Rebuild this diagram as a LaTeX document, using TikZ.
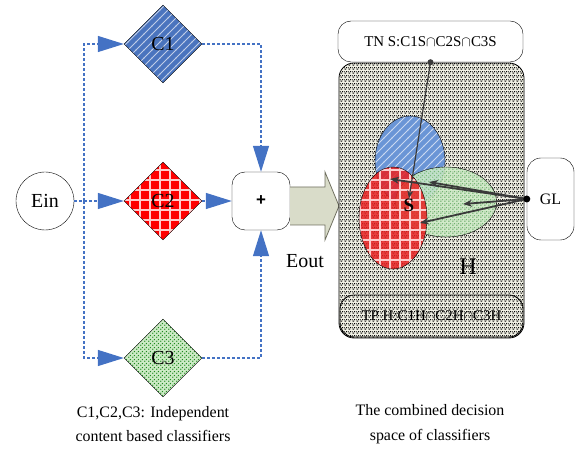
\documentclass[tikz,border=0pt]{standalone}
\usepackage{fontspec}
\setmainfont{Liberation Serif}
\setsansfont{Liberation Sans}
\usetikzlibrary{shapes.geometric, arrows.meta, patterns}
\pgfdeclarepatternformonly{hchk}{\pgfpointorigin}{\pgfqpoint{4bp}{4bp}}{\pgfqpoint{4bp}{4bp}}{%
  \pgfpathrectangle{\pgfqpoint{0.75bp}{0.4bp}}{\pgfqpoint{2bp}{1.2bp}}%
  \pgfpathrectangle{\pgfqpoint{2.75bp}{2.4bp}}{\pgfqpoint{1.25bp}{1.2bp}}%
  \pgfpathrectangle{\pgfqpoint{0bp}{2.4bp}}{\pgfqpoint{0.75bp}{1.2bp}}%
  \pgfusepath{fill}}
\pgfdeclarepatternformonly{nestripes}{\pgfqpoint{-1bp}{-1bp}}{\pgfqpoint{9bp}{9bp}}{\pgfqpoint{8bp}{8bp}}{%
  \pgfsetlinewidth{0.9bp}\pgfpathmoveto{\pgfqpoint{-0.5bp}{-0.5bp}}\pgfpathlineto{\pgfqpoint{8.5bp}{8.5bp}}\pgfusepath{stroke}}
\pgfdeclarepatternformonly{wgrid}{\pgfqpoint{-1bp}{-1bp}}{\pgfqpoint{10bp}{10bp}}{\pgfqpoint{10bp}{10bp}}{%
  \pgfsetlinewidth{1.1bp}%
  \pgfpathmoveto{\pgfqpoint{0bp}{-0.5bp}}\pgfpathlineto{\pgfqpoint{0bp}{10.5bp}}%
  \pgfpathmoveto{\pgfqpoint{-0.5bp}{0bp}}\pgfpathlineto{\pgfqpoint{10.5bp}{0bp}}%
  \pgfusepath{stroke}}
\pgfdeclarepatternformonly{gdots}{\pgfpointorigin}{\pgfqpoint{4bp}{4bp}}{\pgfqpoint{4bp}{4bp}}{%
  \pgfpathcircle{\pgfqpoint{1bp}{1bp}}{0.9bp}%
  \pgfpathcircle{\pgfqpoint{3bp}{3bp}}{0.9bp}%
  \pgfusepath{fill}}
\definecolor{flowblue}{HTML}{4472C4}
\definecolor{cblue}{HTML}{4A74BE}
\definecolor{eblue}{HTML}{6A95D6}
\definecolor{cred}{HTML}{FF0000}
\definecolor{ered}{HTML}{E82020}
\definecolor{cgreen}{HTML}{CDEBC6}
\definecolor{dgreen}{HTML}{1F8A1F}
\definecolor{arrfill}{HTML}{D9DCC9}
\definecolor{arrdraw}{HTML}{707060}
\definecolor{hbg}{HTML}{F0F0E4}
\definecolor{darkg}{HTML}{3A3A3A}
\tikzset{
  cls/.style={diamond, draw, aspect=1, minimum width=78bp, minimum height=78bp, inner sep=0pt, font=\fontsize{20}{24}\selectfont},
  bluefill/.style={preaction={fill=cblue}, pattern=nestripes, pattern color=white!65!cblue},
  redfill/.style={preaction={fill=cred}, pattern=wgrid, pattern color=white!80!red},
  greenfill/.style={preaction={fill=cgreen}, pattern=gdots, pattern color=dgreen},
  flow/.style={draw=flowblue, line width=1.3bp, dash pattern=on 3bp off 2bp, -{Triangle[length=26bp,width=16bp]}},
  hfill/.style={preaction={fill=hbg}, pattern=hchk, pattern color=black},
  glarrow/.style={draw=darkg, line width=1.8bp, -{Stealth[length=9bp,width=7bp]}},
  roundbox/.style={draw, fill=white, rounded corners=13bp, inner sep=0pt},
  lbl/.style={inner sep=0pt, font=\fontsize{20}{24}\selectfont}
}
\begin{document}
\begin{tikzpicture}[x=1bp, y=-1bp]
\useasboundingbox (0,0) rectangle (575,450);
% left part
\node[circle, draw, minimum size=58bp, inner sep=0pt, font=\fontsize{20}{24}\selectfont] (ein) at (45,201) {Ein};
\node[cls, bluefill] (c1) at (163,44) {C1};
\node[cls, redfill] (c2) at (163,201) {C2};
\node[cls, greenfill] (c3) at (163,358) {C3};
\node[roundbox, minimum size=58bp, font=\sffamily\bfseries\fontsize{17}{20}\selectfont] (plus) at (261,201) {+};
\coordinate (jL) at (84,201);
\draw[flow] (ein.east) -- (c2.west);
\draw[flow] (jL) |- (c1.west);
\draw[flow] (jL) |- (c3.west);
\draw[flow] (c1.east) -| (plus.north);
\draw[flow] (c2.east) -- (plus.west);
\draw[flow] (c3.east) -| (plus.south);
% big arrow
\draw[fill=arrfill, draw=arrdraw, line width=0.8bp] (290,187) -- (325,187) -- (325,172) -- (339,206) -- (325,240) -- (325,225) -- (290,225);
\node[lbl] (eout) at (305,261) {Eout};
% decision space
\node[draw, line width=0.8bp, rounded corners=15bp, minimum width=185bp, minimum height=275bp, hfill] (space) at (431.5,200.5) {};
\node[draw, line width=0.8bp, rounded corners=14bp, minimum width=183bp, minimum height=42bp, hfill, font=\fontsize{15}{18}\selectfont] (tp) at (431.5,316) {TP H:C1H$\cap$C2H$\cap$C3H};
\node[ellipse, draw, minimum width=70bp, minimum height=90bp, preaction={fill=eblue}, pattern=nestripes, pattern color=white!65!eblue] (eb) at (410,161) {};
\node[ellipse, draw, minimum width=101bp, minimum height=70bp, preaction={fill=cgreen, fill opacity=0.85}, pattern=gdots, pattern color=dgreen!70, fill opacity=0.8] (eg) at (446,202) {};
\node[ellipse, draw, minimum width=68bp, minimum height=102bp, preaction={fill=ered, fill opacity=0.85}, pattern=wgrid, pattern color=white!80!red, fill opacity=0.85] (er) at (393,218) {};
\node[inner sep=0pt, font=\bfseries\fontsize{19}{22}\selectfont] (slab) at (409,205) {S};
\node[inner sep=0pt, font=\fontsize{24}{28}\selectfont] (hlab) at (468,267) {H};
% TN box
\node[roundbox, minimum width=185bp, minimum height=41bp, font=\fontsize{15}{18}\selectfont] (tn) at (430.5,41.5) {TN S:C1S$\cap$C2S$\cap$C3S};
\draw[darkg, line width=1.2bp, -{Stealth[length=8bp,width=6bp]}] (tn.south) -- (slab.north);
\fill[darkg] (tn.south) circle (3bp);
% GL
\node[roundbox, rounded corners=14bp, minimum width=47bp, minimum height=82bp, font=\fontsize{16}{19}\selectfont] (gl) at (550.5,199) {GL};
\coordinate (t1) at (390,179);
\coordinate (t2) at (429,182);
\coordinate (t3) at (463,204);
\coordinate (t4) at (420,223);
\draw[glarrow] (gl.west) -- (t1);
\draw[glarrow] (gl.west) -- (t2);
\draw[glarrow] (gl.west) -- (t3);
\draw[glarrow] (gl.west) -- (t4);
\fill[black] (gl.west) circle (3.5bp);
% captions
\node[align=center, font=\fontsize{16}{25}\selectfont] (cap1) at (153,424) {C1,C2,C3: Independent\\content based classifiers};
\node[align=center, font=\fontsize{16}{25}\selectfont] (cap2) at (430,424) {The combined decision\\space of classifiers};
\end{tikzpicture}
\end{document}
